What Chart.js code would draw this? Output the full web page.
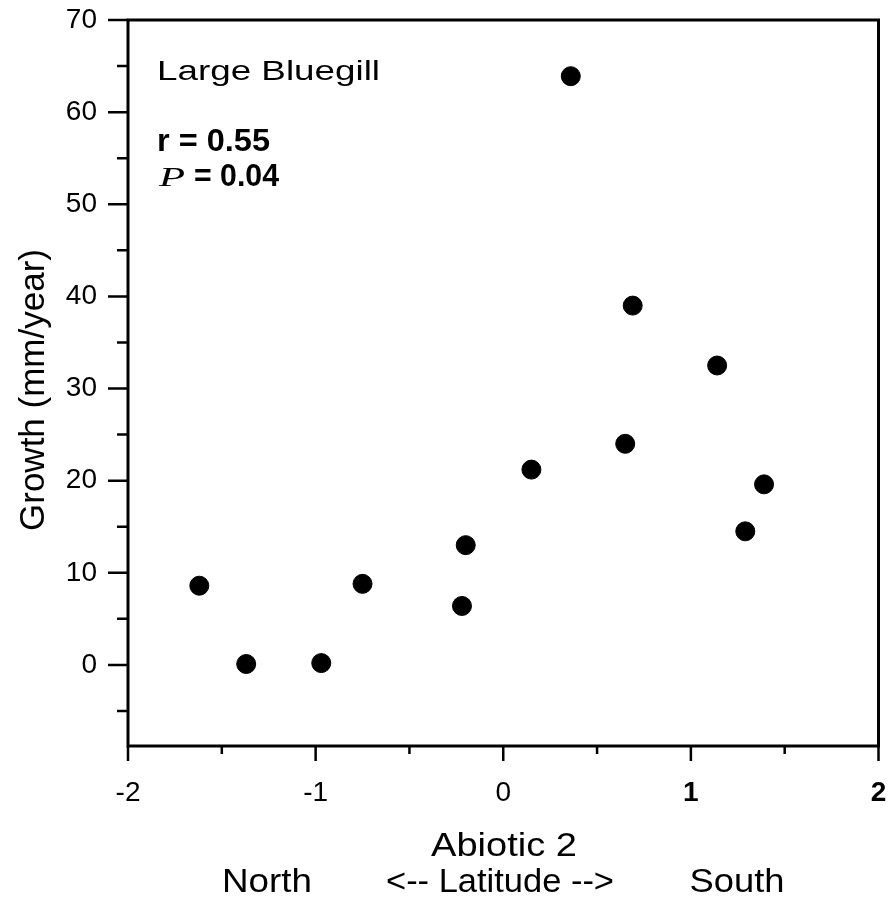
<!DOCTYPE html>
<html>
<head>
<meta charset="utf-8">
<script src="https://cdn.jsdelivr.net/npm/chart.js@4.4.1/dist/chart.umd.min.js"></script>
<style>
  html, body { margin: 0; padding: 0; background: #fff; }
  .chart-box { width: 889px; height: 899px; }
</style>
</head>
<body>
<div class="chart-box"><canvas id="growthChart"></canvas></div>
<script>
// values
const abioticScores = [-1.62, -1.37, -0.97, -0.75, -0.22, -0.20, 0.15, 0.36, 0.65, 0.69, 1.14, 1.39, 1.29];
const growthValues = [8.6, 0.1, 0.2, 8.8, 6.4, 13.0, 21.2, 63.9, 24.0, 39.0, 32.5, 19.6, 14.5];

const xTickLabels = [-2, -1, 0, 1, 2];
const xTickMarks = [-2, -1.5, -1, -0.5, 0, 0.5, 1, 1.5, 2];
const yTickLabels = [0, 10, 20, 30, 40, 50, 60, 70];
const yTickMarks = [-5, 0, 5, 10, 15, 20, 25, 30, 35, 40, 45, 50, 55, 60, 65, 70];

const FONT = "'Liberation Sans', Arial, Helvetica, sans-serif";
const points = abioticScores.map((x, i) => ({x: x, y: growthValues[i]}));

// text squeezed/stretched to a given width, like the scan
function fitText(ctx, text, x, y, font, width, centered) {
  ctx.save();
  ctx.font = font;
  ctx.textAlign = 'left';
  const w = ctx.measureText(text).width;
  const target = width || w;
  ctx.translate(centered ? x - target / 2 : x, y);
  ctx.scale(target / w, 1);
  ctx.fillText(text, 0, 0);
  ctx.restore();
}

// chart.js adds room for the edge labels, we want the box exactly where the scan has it
function noScalePadding(scale) {
  scale.paddingTop = 0;
  scale.paddingBottom = 0;
  scale.paddingLeft = 0;
  scale.paddingRight = 0;
}

const framePlugin = {
  id: 'frameAndTicks',
  afterDraw(chart) {
    const {ctx, chartArea: a, scales} = chart;
    ctx.save();
    ctx.strokeStyle = '#000';
    ctx.lineWidth = 3;
    ctx.strokeRect(a.left, a.top, a.right - a.left, a.bottom - a.top);

    ctx.lineWidth = 2.5;
    ctx.beginPath();
    yTickMarks.forEach(v => {
      const py = scales.y.getPixelForValue(v);
      const len = v % 10 === 0 ? 20 : 11;
      ctx.moveTo(a.left - len, py);
      ctx.lineTo(a.left, py);
    });
    xTickMarks.forEach(v => {
      const px = scales.x.getPixelForValue(v);
      const len = Number.isInteger(v) ? 15 : 8;
      ctx.moveTo(px, a.bottom);
      ctx.lineTo(px, a.bottom + len);
    });
    ctx.stroke();

    ctx.fillStyle = '#000';
    ctx.textBaseline = 'alphabetic';
    fitText(ctx, 'Large Bluegill', 157, 80, '28px ' + FONT, 223);
    fitText(ctx, 'r = 0.55', 157, 151, 'bold 31px ' + FONT, 113);
    fitText(ctx, 'P', 159, 186, 'italic 27px "Liberation Serif", "Times New Roman", serif', 26);
    fitText(ctx, '= 0.04', 194, 186, 'bold 31px ' + FONT, 85);

    fitText(ctx, 'Abiotic 2', 504, 856, '33px ' + FONT, 146, true);
    fitText(ctx, 'North', 267, 892, '34px ' + FONT, 90, true);
    fitText(ctx, '<-- Latitude -->', 500, 892, '34px ' + FONT, 228, true);
    fitText(ctx, 'South', 737, 892, '34px ' + FONT, 95, true);

    ctx.translate(44, 390);
    ctx.rotate(-Math.PI / 2);
    ctx.textAlign = 'center';
    ctx.font = '35px ' + FONT;
    ctx.fillText('Growth (mm/year)', 0, 0);
    ctx.restore();
  }
};

new Chart(document.getElementById('growthChart'), {
  type: 'scatter',
  data: {
    datasets: [{
      label: 'Large Bluegill',
      data: points,
      backgroundColor: '#000',
      borderColor: '#000',
      pointRadius: 9.5,
      pointHoverRadius: 9.5
    }]
  },
  options: {
    responsive: true,
    maintainAspectRatio: false,
    animation: false,
    layout: {padding: {top: 20, right: 9, left: 0, bottom: 0}},
    plugins: {legend: {display: false}, tooltip: {enabled: false}},
    scales: {
      x: {
        type: 'linear',
        min: -2,
        max: 2,
        grid: {display: false, drawTicks: false},
        border: {display: false},
        afterBuildTicks: (scale) => { scale.ticks = xTickLabels.map(v => ({value: v})); },
        afterFit: (scale) => { scale.height = 153; noScalePadding(scale); },
        ticks: {
          autoSkip: false,
          maxRotation: 0,
          padding: 30,
          color: '#000',
          font: (c) => ({family: FONT, size: 28, weight: c.tick && c.tick.value >= 1 ? 'bold' : 'normal'})
        }
      },
      y: {
        type: 'linear',
        min: -8.8,
        max: 70,
        grid: {display: false, drawTicks: false},
        border: {display: false},
        afterBuildTicks: (scale) => { scale.ticks = yTickLabels.map(v => ({value: v})); },
        afterFit: (scale) => { scale.width = 128; noScalePadding(scale); },
        ticks: {
          padding: 31,
          color: '#000',
          font: {family: FONT, size: 28}
        }
      }
    }
  },
  plugins: [framePlugin]
});
</script>
</body>
</html>
